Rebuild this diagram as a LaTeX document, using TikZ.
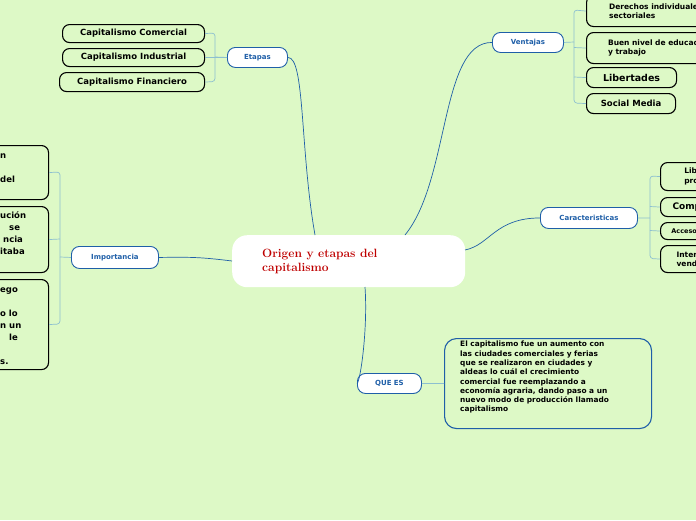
\documentclass[tikz,border=0pt]{standalone}
\usepackage{fontspec}
\setsansfont{DejaVu Sans}
\definecolor{bg}{HTML}{DDF9C6}
\definecolor{hb}{HTML}{1F5FA8}
\definecolor{brc}{HTML}{8CBFD0}
\begin{document}
\begin{tikzpicture}[x=1pt,y=-1pt,
  leaf/.style={draw=black,line width=1.1pt,fill=none,rounded corners=7pt,font=\sffamily\bfseries\fontsize{8.5}{9.5}\selectfont,inner sep=0pt,align=left,anchor=north west},
  hub/.style={draw=hb,line width=0.9pt,fill=white,rounded corners=8pt,font=\sffamily\bfseries\fontsize{7}{8}\selectfont,text=hb,inner sep=0pt,anchor=north west},
  con/.style={draw=hb,line width=0.7pt},
  br/.style={draw=brc,line width=0.7pt,rounded corners=3pt},
  frag/.style={font=\sffamily\bfseries\fontsize{8.5}{9}\selectfont,anchor=base west,inner sep=0pt}]
\fill[bg] (0,0) rectangle (696,520);
\useasboundingbox (0,0) rectangle (696,520);
\clip (0,0) rectangle (696,520);
% main
\node[draw=none,fill=white,rounded corners=15pt,minimum width=233pt,minimum height=52pt,anchor=north west] (main) at (232,235) {};
\node[anchor=west,align=left,text=red!75!black,font=\bfseries\fontsize{12}{14}\selectfont,inner sep=0pt] (mt) at (262,261) {Origen y etapas del\\capitalismo};
% hubs
\node[hub,minimum width=60pt,minimum height=20pt] (etapas) at (227,47) {Etapas};
\node[hub,minimum width=71pt,minimum height=20pt] (ventajas) at (492,32) {Ventajas};
\node[hub,minimum width=97pt,minimum height=21pt] (carac) at (540,207) {Caracteristicas};
\node[hub,minimum width=64pt,minimum height=20pt] (quees) at (357,373) {QUE ES};
\node[hub,minimum width=87pt,minimum height=22pt] (imp) at (71,246) {Importancia};
% connectors
\draw[con] (etapas.east) .. controls (305,57) and (300,150) .. (315,235);
\draw[con] (ventajas.west) .. controls (440,42) and (450,180) .. (405,235);
\draw[con] (carac.west) .. controls (495,218) and (490,245) .. (465,250);
\draw[con] (quees.west) .. controls (360,383) and (368,330) .. (365,287);
\draw[con] (imp.east) .. controls (190,257) and (200,257) .. (232,261);
% Etapas leaves
\node[leaf,minimum width=142pt,minimum height=18pt,align=center] (c1) at (62,24) {Capitalismo Comercial};
\node[leaf,minimum width=142pt,minimum height=18pt,align=center] (c2) at (62,48) {Capitalismo Industrial};
\node[leaf,minimum width=145pt,minimum height=19pt,align=center] (c3) at (59,72) {Capitalismo Financiero};
\draw[br] (c1.east) -- (215,33) -- (215,81.5) -- (c3.east);
\draw[br] (c2.east) -- (etapas.west);
\draw[br] (215,57) -- (etapas.west);
% Ventajas leaves
\node[leaf,minimum width=130pt,minimum height=31pt] (v1) at (586,-5) {\hspace*{16pt}\fontsize{7.5}{9}\selectfont Derechos individuales y\\\hspace*{16pt}\fontsize{7.5}{9}\selectfont sectoriales};
\node[leaf,minimum width=130pt,minimum height=31pt] (v2) at (586,32) {\hspace*{16pt}\fontsize{7.5}{9}\selectfont Buen nivel de educación\\\hspace*{16pt}\fontsize{7.5}{9}\selectfont y trabajo};
\node[leaf,minimum width=90pt,minimum height=20pt,align=center,font=\sffamily\bfseries\fontsize{9.5}{10}\selectfont] (v3) at (586,67) {Libertades};
\node[leaf,minimum width=89pt,minimum height=20pt,align=center] (v4) at (586,93) {Social Media};
\draw[br] (v1.west) -- (574,10) -- (574,103) -- (v4.west);
\draw[br] (574,47.5) -- (v2.west); \draw[br] (574,77) -- (v3.west);
\draw[br] (ventajas.east) -- (574,42);
% Caracteristicas leaves
\node[leaf,minimum width=80pt,minimum height=28pt] (k1) at (660,162) {\hspace*{16pt}\fontsize{7.5}{9}\selectfont Libertad de\\\hspace*{16pt}\fontsize{7.5}{9}\selectfont producción};
\node[leaf,minimum width=80pt,minimum height=19pt,font=\sffamily\bfseries\fontsize{9}{9}\selectfont] (k2) at (660,197) {\hspace*{10pt}Competencia};
\node[leaf,minimum width=80pt,minimum height=17pt,font=\sffamily\bfseries\fontsize{6.5}{7}\selectfont] (k3) at (660,222) {\hspace*{10pt}Acceso al mercado};
\node[leaf,minimum width=80pt,minimum height=27pt] (k4) at (660,245) {\hspace*{16pt}\fontsize{7.5}{9}\selectfont Intercambio de\\\hspace*{16pt}\fontsize{7.5}{9}\selectfont vendedores};
\draw[br] (k1.west) -- (650,176) -- (650,258.5) -- (k4.west);
\draw[br] (650,206.5) -- (k2.west); \draw[br] (650,230.5) -- (k3.west);
\draw[br] (carac.east) -- (650,218);
% QUE ES
\node[draw=hb,line width=1.1pt,rounded corners=12pt,minimum width=207pt,minimum height=90pt,anchor=north west] (qt) at (444,338) {};
\node[anchor=north west,align=left,inner sep=0pt,font=\sffamily\bfseries\fontsize{7.4}{9.3}\selectfont] (qtt) at (460,341) {El capitalismo fue un aumento con\\las ciudades comerciales y ferias\\que se realizaron en ciudades y\\aldeas lo cuál el crecimiento\\comercial fue reemplazando a\\economía agraria, dando paso a un\\nuevo modo de producción llamado\\capitalismo};
\draw[br] (quees.east) -- (qt.west);
% Importancia leaves
\node[leaf,minimum width=98pt,minimum height=54pt] (i1) at (-50,145) {};
\node[leaf,minimum width=98pt,minimum height=66pt] (i2) at (-50,206) {};
\node[leaf,minimum width=98pt,minimum height=90pt] (i3) at (-50,279) {};
\draw[br] (i1.east) -- (60,172) -- (60,324) -- (i3.east);
\draw[br] (60,239) -- (i2.east);
\draw[br] (imp.west) -- (60,257);
\node[frag] (f1) at (0,158) {n};
\node[frag] (f2) at (0,182) {del};
\node[frag] (f3) at (0,218) {ución};
\node[frag] (f4) at (9,230) {se};
\node[frag] (f5) at (3,242) {ncia};
\node[frag] (f6) at (0,254) {itaba};
\node[frag] (f7) at (0,292) {ego};
\node[frag] (f8) at (0,316) {o lo};
\node[frag] (f9) at (0,328) {n un};
\node[frag] (f10) at (9,340) {le};
\node[frag] (f11) at (0,364) {s.};
\end{tikzpicture}
\end{document}
